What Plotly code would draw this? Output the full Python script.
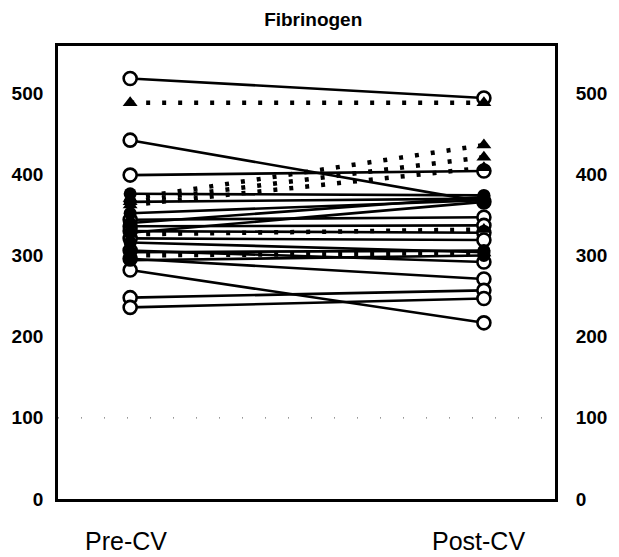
import plotly.graph_objects as go

# Fibrinogen (mg/dl) before and after cardioversion, one line per patient
categories = ["Pre-CV", "Post-CV"]
tick_values = [0, 100, 200, 300, 400, 500]

# patients drawn with open circles and solid lines
open_pre = [518, 442, 399, 344, 336, 330, 321, 306, 296, 282, 248, 236]
open_post = [494, 366, 404, 347, 337, 328, 319, 292, 271, 217, 257, 247]

# patients drawn with filled circles and solid lines
fill_pre = [376, 366, 352, 340, 328, 316, 304, 294]
fill_post = [374, 370, 368, 372, 366, 304, 306, 300]

# patients drawn with filled triangles and dotted lines
tri_pre = [488, 370, 366, 362, 326, 300]
tri_post = [488, 436, 421, 408, 332, 303]


def segments(pre, post):
    xs, ys = [], []
    for a, b in zip(pre, post):
        xs += [0, 1, None]
        ys += [a, b, None]
    return xs, ys


FONT = "Liberation Sans"
fig = go.Figure()

# faint dotted reference at 100
fig.add_trace(go.Scatter(
    x=[-0.204, 1.201], y=[100, 100], mode="lines",
    line=dict(color="#777", width=1.2, dash="1px,22px"),
    hoverinfo="skip", showlegend=False))

x, y = segments(open_pre, open_post)
fig.add_trace(go.Scatter(
    x=x, y=y, mode="lines+markers",
    line=dict(color="black", width=2.6),
    marker=dict(symbol="circle", size=13, color="white",
                line=dict(color="black", width=2.6)),
    showlegend=False))

x, y = segments(fill_pre, fill_post)
fig.add_trace(go.Scatter(
    x=x, y=y, mode="lines+markers",
    line=dict(color="black", width=2.6),
    marker=dict(symbol="circle", size=13, color="black"),
    showlegend=False))

x, y = segments(tri_pre, tri_post)
fig.add_trace(go.Scatter(
    x=x, y=y, mode="lines",
    line=dict(color="black", width=4.5, dash="4px,12px"),
    showlegend=False))
fig.add_trace(go.Scatter(
    x=x, y=y, mode="markers",
    marker=dict(symbol="triangle-up", size=13, color="black"),
    showlegend=False))

# right-hand copy of the value axis
fig.add_trace(go.Scatter(x=[0], y=[0], yaxis="y2", mode="markers",
                         marker=dict(opacity=0), hoverinfo="skip",
                         showlegend=False))

tick_font = dict(family=FONT, size=19, color="black", weight="bold")
yrange = [0, 558]

fig.update_layout(
    width=619, height=557,
    margin=dict(l=58, r=51, t=46, b=58),
    paper_bgcolor="white", plot_bgcolor="white",
    title=dict(text="Fibrinogen", x=0.506, xanchor="center",
               y=1 - 19 / 557, yanchor="middle",
               font=dict(family=FONT, size=19, color="black", weight="bold")),
    xaxis=dict(range=[-0.204, 1.201], showgrid=False, zeroline=False,
               showticklabels=False, ticks="",
               showline=True, mirror=True, linecolor="black", linewidth=2.8),
    yaxis=dict(range=yrange, tickvals=tick_values, showgrid=False,
               zeroline=False, ticks="", tickfont=tick_font,
               ticklabelstandoff=8,
               showline=True, linecolor="black", linewidth=2.8),
    yaxis2=dict(range=yrange, tickvals=tick_values, overlaying="y",
                side="right", showgrid=False, zeroline=False, ticks="",
                tickfont=tick_font, ticklabelstandoff=14,
                showline=True, linecolor="black", linewidth=2.8),
    showlegend=False,
)

# group labels under the plot
for xpos, label in zip([-0.012, 0.986], categories):
    fig.add_annotation(x=xpos, xref="x", y=-42 / 453, yref="paper",
                       text=label, showarrow=False, yanchor="middle",
                       font=dict(family=FONT, size=25, color="black"))

fig.write_html("out.html")
